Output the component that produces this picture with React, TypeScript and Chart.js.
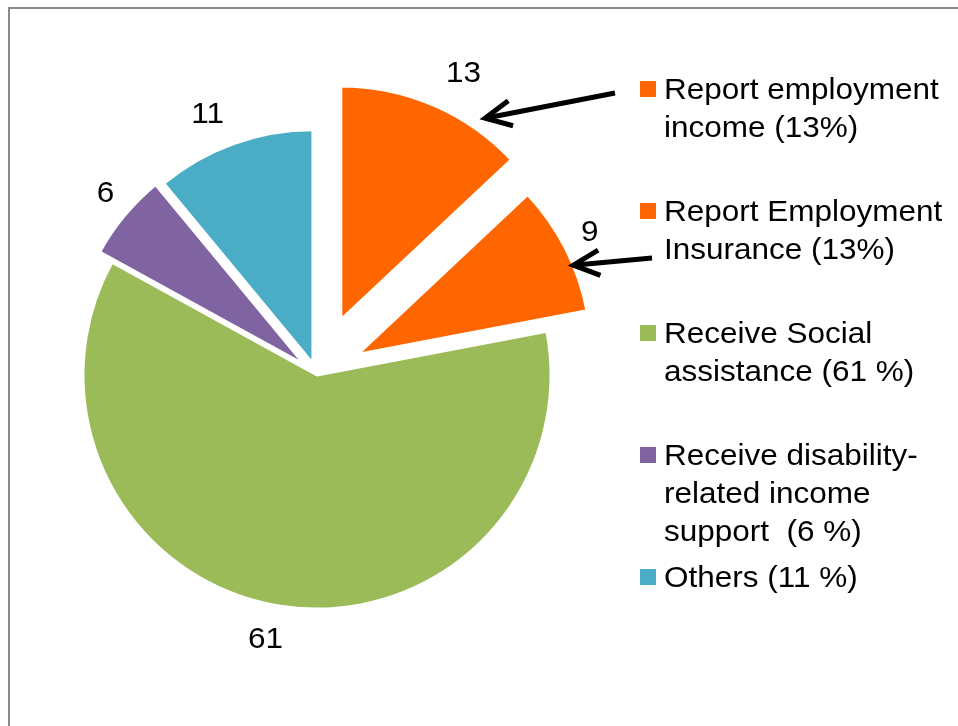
import React, { useEffect, useRef } from "react";
import { Chart, registerables } from "chart.js";

Chart.register(...registerables);

// ---- data ----
const categories = [
  "Report employment income (13%)",
  "Report Employment Insurance (13%)",
  "Receive Social assistance (61 %)",
  "Receive disability-related income support  (6 %)",
  "Others (11 %)",
];
const legendLines = [
  ["Report employment", "income (13%)"],
  ["Report Employment", "Insurance (13%)"],
  ["Receive Social", "assistance (61 %)"],
  ["Receive disability-", "related income", "support  (6 %)"],
  ["Others (11 %)"],
];
const values = [13, 9, 61, 6, 11];
const valueLabels = ["13", "9", "61", "6", "11"];

// ---- styles ----
const colors = ["#FF6600", "#FF6600", "#9BBB59", "#8064A2", "#4BACC6"];
const explode = [60, 45, 0, 16, 12];
const labelExtra = [43, 30, 33, 30, 39];
const labelNudgeDeg = [2.9, -1.2, 2.1, 1.4, -2.9];
const FONT = '30px "Liberation Sans", Arial, sans-serif';
const SX = 1.05;
const CAP = 30 * 0.716;
const LEGEND = { markerX: 640, markerSize: 16, textX: 664, firstBaseline: 99, pitch: 122, lineH: 38 };
const arrows = [
  { slice: 0, frac: 0.76, gap: 14, entry: 0, line: 0, tailDx: -25, tailDy: -6 },
  { slice: 1, frac: 0.64, gap: 0, entry: 1, line: 1, tailDx: 12, tailDy: -1 },
];

function drawText(ctx: CanvasRenderingContext2D, text: string, x: number, y: number, align: CanvasTextAlign) {
  ctx.save();
  ctx.translate(x, y);
  ctx.scale(SX, 1);
  ctx.font = FONT;
  ctx.fillStyle = "#000";
  ctx.textAlign = align;
  ctx.textBaseline = "alphabetic";
  ctx.fillText(text, 0, 0);
  ctx.restore();
}

const explodePlugin = {
  id: "explodeSlices",
  beforeDatasetsDraw(chart: any) {
    const ca = chart.chartArea;
    const cx = (ca.left + ca.right) / 2;
    const cy = (ca.top + ca.bottom) / 2;
    const meta = chart.getDatasetMeta(0);
    meta.data.forEach((el: any, i: number) => {
      const mid = (el.startAngle + el.endAngle) / 2;
      const d = explode[i] || 0;
      el.x = cx + Math.cos(mid) * d;
      el.y = cy + Math.sin(mid) * d;
    });
  },
  afterDatasetsDraw(chart: any) {
    const ctx: CanvasRenderingContext2D = chart.ctx;
    const meta = chart.getDatasetMeta(0);
    // data labels
    meta.data.forEach((el: any, i: number) => {
      const mid = (el.startAngle + el.endAngle) / 2 + (labelNudgeDeg[i] * Math.PI) / 180;
      const r = el.outerRadius + labelExtra[i];
      const x = el.x + Math.cos(mid) * r;
      const y = el.y + Math.sin(mid) * r;
      drawText(ctx, valueLabels[i], x, y + CAP / 2, "center");
    });
    // arrows
    arrows.forEach((a) => {
      const el: any = meta.data[a.slice];
      const ang = el.startAngle + (el.endAngle - el.startAngle) * a.frac;
      const r = el.outerRadius + a.gap;
      const tx = el.x + Math.cos(ang) * r;
      const ty = el.y + Math.sin(ang) * r;
      const lx = LEGEND.markerX + a.tailDx;
      const ly = LEGEND.firstBaseline + a.entry * LEGEND.pitch + a.line * LEGEND.lineH + a.tailDy;
      const dir = Math.atan2(ly - ty, lx - tx);
      const wing = 29;
      const spread = (26 * Math.PI) / 180;
      ctx.save();
      ctx.strokeStyle = "#000";
      ctx.lineWidth = 5;
      ctx.lineCap = "butt";
      ctx.lineJoin = "miter";
      ctx.beginPath();
      ctx.moveTo(lx, ly);
      ctx.lineTo(tx, ty);
      ctx.stroke();
      ctx.beginPath();
      ctx.moveTo(tx + Math.cos(dir - spread) * wing, ty + Math.sin(dir - spread) * wing);
      ctx.lineTo(tx, ty);
      ctx.lineTo(tx + Math.cos(dir + spread) * wing, ty + Math.sin(dir + spread) * wing);
      ctx.stroke();
      ctx.restore();
    });
  },
  afterDraw(chart: any) {
    const ctx: CanvasRenderingContext2D = chart.ctx;
    // frame
    ctx.save();
    ctx.strokeStyle = "#8a8a8a";
    ctx.lineWidth = 2;
    ctx.strokeRect(9, 8, 1200, 1200);
    ctx.restore();
    // legend
    legendLines.forEach((lines, i) => {
      const base = LEGEND.firstBaseline + i * LEGEND.pitch;
      ctx.fillStyle = colors[i];
      ctx.fillRect(LEGEND.markerX, base - 18, LEGEND.markerSize, LEGEND.markerSize);
      lines.forEach((t, j) => drawText(ctx, t, LEGEND.textX, base + j * LEGEND.lineH, "left"));
    });
  },
};

export default function App() {
  const ref = useRef<HTMLCanvasElement | null>(null);
  useEffect(() => {
    if (!ref.current) return;
    const chart = new Chart(ref.current, {
      type: "pie",
      data: {
        labels: categories,
        datasets: [
          {
            data: values,
            backgroundColor: colors,
            borderColor: "#ffffff",
            borderWidth: 3,
            radius: 234,
            clip: false,
          } as any,
        ],
      },
      options: {
        responsive: false,
        animation: false,
        events: [],
        layout: { padding: { left: 20, right: 344, top: 40, bottom: 16 } },
        plugins: { legend: { display: false }, tooltip: { enabled: false } },
      },
      plugins: [explodePlugin],
    });
    return () => chart.destroy();
  }, []);
  return (
    <div style={{ position: "absolute", left: 0, top: 0, width: 958, height: 726, background: "#fff" }}>
      <canvas ref={ref} width={958} height={726} style={{ width: 958, height: 726, display: "block" }} />
    </div>
  );
}
